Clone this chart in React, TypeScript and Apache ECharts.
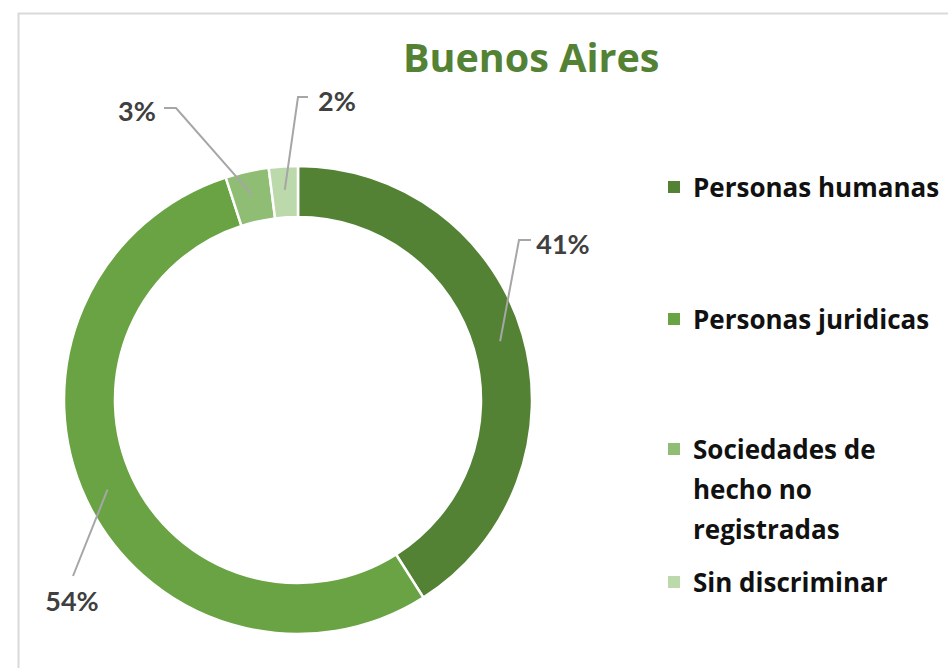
import React, { useEffect, useRef } from "react";
import * as echarts from "echarts";

const categories = [
  "Personas humanas",
  "Personas juridicas",
  "Sociedades de hecho no registradas",
  "Sin discriminar",
];
const shares = [41, 54, 3, 2];
const legendLabels = [
  "Personas humanas",
  "Personas juridicas",
  "\n\nSociedades de\nhecho no\nregistradas",
  "Sin discriminar",
];
const titleText = "Buenos Aires";

const colors = ["#548235", "#69a343", "#8fbd74", "#bcd9ab"];
const FONT = "'Open Sans', Lato, sans-serif";
const LABEL_FONT = "Lato, 'Open Sans', sans-serif";
const CX = 298;
const CY = 400;
const R_IN = 183;
const R_OUT = 234;
// label placement [labelX, labelY, elbowX, elbowY, endX, endY]
const labelPlacement = [
  [563, 243, 519, 240, 531, 240],
  [72, 600, 73, 576, 73, 576],
  [137, 110, 176, 108, 164, 108],
  [337, 100, 298, 97, 308, 97],
];
const legendTops = [167, 299, 349, 562];

export default function App() {
  const ref = useRef<HTMLDivElement>(null);
  useEffect(() => {
    document.body.style.margin = "0";
    const chart = echarts.init(ref.current!, null, { renderer: "svg" });
    const midR = (R_IN + R_OUT) / 2 + 2;
    const total = shares.reduce((a, b) => a + b, 0);
    let acc = 0;
    const leaderLines = shares.map((v, i) => {
      const mid = acc + v / 2;
      acc += v;
      const ang = (mid / total) * Math.PI * 2; // clockwise from 12 o'clock
      const sx = CX + Math.sin(ang) * midR;
      const sy = CY - Math.cos(ang) * midR;
      const lp = labelPlacement[i];
      return {
        type: "polyline",
        silent: true,
        z: 10,
        shape: {
          points: [
            [sx, sy],
            [lp[2], lp[3]],
            [lp[4], lp[5]],
          ],
        },
        style: { stroke: "#a6a6a6", lineWidth: 2, fill: "none" },
      };
    });
    chart.setOption({
      animation: false,
      backgroundColor: "#ffffff",
      graphic: [
        {
          type: "rect",
          shape: { x: 18.5, y: 13.5, width: 1000, height: 1000 },
          style: { fill: "none", stroke: "#d9d9d9", lineWidth: 2 },
          silent: true,
        },
        ...leaderLines,
      ],
      title: {
        text: titleText,
        left: 403,
        top: 37,
        padding: 0,
        textStyle: { fontFamily: FONT, fontWeight: "bold", fontSize: 39.5, color: "#548235" },
      },
      legend: categories.map((c, i) => ({
        data: [c],
        orient: "vertical",
        left: 666,
        top: legendTops[i],
        padding: 0,
        itemWidth: 14,
        itemHeight: 14,
        icon: "rect",
        selectedMode: false,
        formatter: () => legendLabels[i],
        textStyle: {
          fontFamily: FONT,
          fontWeight: "bold",
          fontSize: 26,
          lineHeight: 40,
          color: "#111111",
          padding: [0, 0, 0, 7],
        },
      })),
      series: [
        {
          type: "pie",
          center: [CX, CY],
          radius: [R_IN, R_OUT],
          startAngle: 90,
          clockwise: true,
          color: colors,
          itemStyle: { borderColor: "#ffffff", borderWidth: 2.5 },
          emphasis: { disabled: true },
          label: {
            show: true,
            position: "outside",
            formatter: "{c}%",
            fontFamily: LABEL_FONT,
            fontWeight: "bold",
            fontSize: 27,
            color: "#404040",
            overflow: "none",
            width: 80,
          },
          labelLine: { show: false },
          labelLayout: (p: any) => {
            const lp = labelPlacement[p.dataIndex];
            return { x: lp[0], y: lp[1], align: "center", verticalAlign: "middle" };
          },
          data: categories.map((c, i) => ({ name: c, value: shares[i] })),
        },
      ],
    });
    return () => chart.dispose();
  }, []);
  return <div ref={ref} style={{ width: 948, height: 668 }} />;
}
